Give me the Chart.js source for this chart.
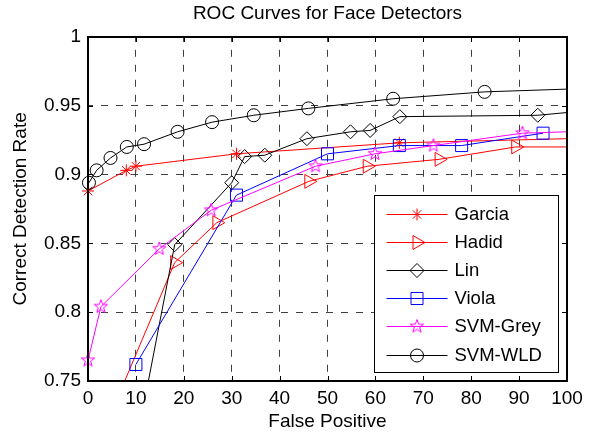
<!DOCTYPE html>
<html>
<head>
<meta charset="utf-8">
<script src="https://cdn.jsdelivr.net/npm/chart.js@4/dist/chart.umd.min.js"></script>
<style>
  body { margin: 0; background: #fff; }
  canvas { display: block; }
</style>
</head>
<body>
<canvas id="rocChart" width="597" height="433"></canvas>
<script>
// 曲線名稱
var names = ['Garcia', 'Hadid', 'Lin', 'Viola', 'SVM-Grey', 'SVM-WLD'];

// 各檢測器 ROC 資料 (x = false positive, y = detection rate)
var garcia_x = [0, 8, 10, 31, 65, 100];
var garcia_y = [0.888, 0.903, 0.906, 0.915, 0.923, 0.926];

var hadid_x = [5, 18.1, 26.9, 46.1, 58.3, 73.3, 89.3, 100];
var hadid_y = [0.728, 0.836, 0.865, 0.895, 0.906, 0.911, 0.920, 0.920];

var lin_x = [10, 18.1, 30, 32.7, 36.9, 45.7, 54.8, 58.9, 65.1, 93.9, 100];
var lin_y = [0.703, 0.849, 0.894, 0.913, 0.914, 0.926, 0.931, 0.932, 0.942, 0.943, 0.945];

var viola_x = [10, 31, 50, 65, 78, 95];
var viola_y = [0.762, 0.885, 0.915, 0.921, 0.921, 0.930];

var grey_x = [0, 2.7, 14.9, 25.7, 47.5, 59.9, 72.1, 90.7, 100];
var grey_y = [0.765, 0.804, 0.846, 0.874, 0.906, 0.915, 0.921, 0.930, 0.931];

var wld_x = [0.2, 1.8, 4.7, 8.1, 11.7, 18.7, 25.9, 34.6, 46, 63.7, 82.8, 100];
var wld_y = [0.894, 0.903, 0.912, 0.920, 0.922, 0.931, 0.938, 0.943, 0.948, 0.955, 0.960, 0.962];

// 軸刻度
var x_ticks = [0, 10, 20, 30, 40, 50, 60, 70, 80, 90, 100];
var y_ticks = [0.75, 0.8, 0.85, 0.9, 0.95, 1];

var FONT = '"Liberation Sans", Arial, Helvetica, sans-serif';
Chart.defaults.font.family = FONT;
Chart.defaults.color = '#000';

function toPoints(xs, ys) {              //x, y 陣列轉成點
  var p = [];
  for (var i = 0; i < xs.length; i++) {
    p.push({x: xs[i], y: ys[i]});
  }
  return p;
}

function starImage(color) {              //五角星 marker
  var c = document.createElement('canvas');
  c.width = 16;
  c.height = 16;
  var g = c.getContext('2d');
  g.strokeStyle = color;
  g.lineWidth = 1;
  g.beginPath();
  for (var i = 0; i < 10; i++) {
    var r = i % 2 ? 2.8 : 7;
    var a = -Math.PI / 2 + i * Math.PI / 5;
    var px = 8 + r * Math.cos(a), py = 8 + r * Math.sin(a);
    if (i == 0) g.moveTo(px, py);
    else g.lineTo(px, py);
  }
  g.closePath();
  g.stroke();
  return c;
}

var colors = ['#ff0000', '#ff0000', '#000000', '#0000ff', '#ff00ff', '#000000'];
var styles = ['star', 'triangle', 'rectRot', 'rect', starImage('#ff00ff'), 'circle'];
var rotations = [0, 90, 0, 0, 0, 0];
var radii = [6, 8, 7, 8.5, 8, 6.5];
var series = [
  toPoints(garcia_x, garcia_y),
  toPoints(hadid_x, hadid_y),
  toPoints(lin_x, lin_y),
  toPoints(viola_x, viola_y),
  toPoints(grey_x, grey_y),
  toPoints(wld_x, wld_y)
];

function makeDataset(i) {
  var r = radii[i];
  return {
    label: names[i],
    data: series[i],
    showLine: true,
    borderColor: colors[i],
    borderWidth: 1,
    backgroundColor: 'rgba(0,0,0,0)',
    pointStyle: styles[i],
    pointRotation: rotations[i],
    pointBorderColor: colors[i],
    pointBorderWidth: 1,
    pointRadius: function (c) {          //x = 100 的尾端不畫 marker
      return c.raw && c.raw.x >= 100 ? 0 : r;
    },
    tension: 0,
    order: names.length - i,
    clip: {left: 10, top: 10, right: 10, bottom: 0}
  };
}

var datasets = [];
for (var i = 0; i < names.length; i++) datasets.push(makeDataset(i));

function tickText(v) {                   //刻度文字，去掉多餘的 0
  return String(Number(v.toFixed(2)));
}

// MATLAB 風格外框與向內刻度
var boxPlugin = {
  id: 'box',
  afterDatasetsDraw: function (chart) {
    var ctx = chart.ctx, a = chart.chartArea;
    var sx = chart.scales.x, sy = chart.scales.y;
    var L = Math.round(a.left), R = Math.round(a.right);
    var T = Math.round(a.top), B = Math.round(a.bottom);
    ctx.save();
    ctx.strokeStyle = '#000';
    ctx.lineWidth = 1;
    ctx.beginPath();
    x_ticks.forEach(function (v) {
      var px = Math.round(sx.getPixelForValue(v)) + 0.5;
      ctx.moveTo(px, B); ctx.lineTo(px, B - 5);
      ctx.moveTo(px, T); ctx.lineTo(px, T + 5);
    });
    y_ticks.forEach(function (v) {
      var py = Math.round(sy.getPixelForValue(v)) + 0.5;
      ctx.moveTo(L, py); ctx.lineTo(L + 5, py);
      ctx.moveTo(R, py); ctx.lineTo(R - 5, py);
    });
    ctx.stroke();
    ctx.lineWidth = 2;
    ctx.strokeRect(L, T, R - L, B - T);
    ctx.restore();
  }
};

// 圖例 (線 + marker)
var legendPlugin = {
  id: 'lineLegend',
  afterDraw: function (chart) {
    var ctx = chart.ctx, a = chart.chartArea;
    var w = 184, h = 177;
    var lx = Math.round(a.right - 9 - w) + 0.5;
    var ly = Math.round(a.bottom - 9 - h) + 0.5;
    ctx.save();
    ctx.fillStyle = '#fff';
    ctx.fillRect(lx, ly, w, h);
    ctx.strokeStyle = '#000';
    ctx.lineWidth = 1;
    ctx.strokeRect(lx, ly, w, h);
    for (var i = 0; i < names.length; i++) {
      var y = ly + 18 + i * 28.2;
      ctx.strokeStyle = colors[i];
      ctx.lineWidth = 1;
      ctx.beginPath();
      ctx.moveTo(lx + 12, Math.round(y) + 0.5);
      ctx.lineTo(lx + 73, Math.round(y) + 0.5);
      ctx.stroke();
      ctx.fillStyle = 'rgba(0,0,0,0)';
      Chart.helpers.drawPoint(ctx, {
        pointStyle: styles[i],
        rotation: rotations[i],
        radius: radii[i],
        borderWidth: 1
      }, lx + 42.5, Math.round(y) + 0.5);
      ctx.fillStyle = '#000';
      ctx.font = '18.5px ' + FONT;
      ctx.textAlign = 'left';
      ctx.textBaseline = 'middle';
      ctx.fillText(names[i], lx + 80, y + 1);
    }
    ctx.restore();
  }
};

var grid_opts = {
  color: '#404040',
  lineWidth: 1,
  drawTicks: false
};

var roc_point = {
  type: 'scatter',
  data: {datasets: datasets},
  options: {
    responsive: false,
    animation: false,
    devicePixelRatio: 1,
    layout: {padding: {left: 0, right: 30, top: 0, bottom: 0}},
    plugins: {
      legend: {display: false},
      tooltip: {enabled: false},
      title: {
        display: true,
        text: 'ROC Curves for Face Detectors',
        fullSize: false,
        color: '#000',
        font: {size: 19, weight: 'normal', lineHeight: 1.2},
        padding: {top: 2, bottom: 12}
      }
    },
    scales: {
      x: {
        type: 'linear',
        min: 0,
        max: 100,
        afterBuildTicks: function (s) {
          s.ticks = x_ticks.map(function (v) { return {value: v}; });
        },
        afterFit: function (s) { s.height = 52; },
        grid: grid_opts,
        border: {display: false, dash: [7, 8], dashOffset: 2},
        ticks: {padding: 6, font: {size: 19}, color: '#000', maxRotation: 0, callback: tickText},
        title: {
          display: true,
          text: 'False Positive',
          color: '#000',
          font: {size: 19, lineHeight: 1.2},
          padding: {top: 0, bottom: 0}
        }
      },
      y: {
        type: 'linear',
        min: 0.75,
        max: 1,
        afterBuildTicks: function (s) {
          s.ticks = y_ticks.map(function (v) { return {value: v}; });
        },
        afterFit: function (s) { s.width = 88; },
        grid: grid_opts,
        border: {display: false, dash: [7, 8], dashOffset: 2},
        ticks: {padding: 7, font: {size: 19}, color: '#000', callback: tickText},
        title: {
          display: true,
          text: 'Correct Detection Rate',
          color: '#000',
          font: {size: 19, lineHeight: 1.2},
          padding: {top: 9, bottom: 0}
        }
      }
    }
  },
  plugins: [boxPlugin, legendPlugin]
};

var roc = new Chart(document.getElementById('rocChart').getContext('2d'), roc_point);
</script>
</body>
</html>
